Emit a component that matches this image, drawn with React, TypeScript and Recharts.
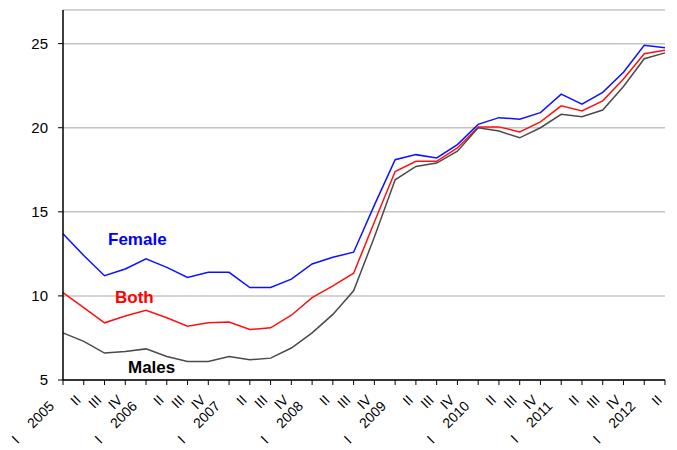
import { CartesianGrid, Line, LineChart, XAxis, YAxis } from 'recharts';

const periods = [
  '2005 I', '2005 II', '2005 III', '2005 IV',
  '2006 I', '2006 II', '2006 III', '2006 IV',
  '2007 I', '2007 II', '2007 III', '2007 IV',
  '2008 I', '2008 II', '2008 III', '2008 IV',
  '2009 I', '2009 II', '2009 III', '2009 IV',
  '2010 I', '2010 II', '2010 III', '2010 IV',
  '2011 I', '2011 II', '2011 III', '2011 IV',
  '2012 I', '2012 II',
];

const female = [
  13.7, 12.4, 11.2, 11.6, 12.2, 11.7, 11.1, 11.4, 11.4, 10.5,
  10.5, 11.0, 11.9, 12.3, 12.6, 15.4, 18.1, 18.4, 18.2, 19.0,
  20.2, 20.6, 20.5, 20.9, 22.0, 21.4, 22.1, 23.3, 24.9, 24.75,
];

const both = [
  10.2, 9.3, 8.4, 8.8, 9.15, 8.7, 8.2, 8.4, 8.45, 8.0,
  8.1, 8.85, 9.9, 10.6, 11.35, 14.4, 17.4, 18.0, 18.0, 18.8,
  20.05, 20.05, 19.75, 20.35, 21.3, 21.0, 21.6, 22.9, 24.4, 24.6,
];

const males = [
  7.8, 7.3, 6.6, 6.7, 6.85, 6.4, 6.1, 6.1, 6.4, 6.2,
  6.3, 6.9, 7.8, 8.9, 10.3, 13.5, 16.9, 17.7, 17.9, 18.6,
  20.0, 19.8, 19.4, 20.0, 20.8, 20.65, 21.05, 22.45, 24.1, 24.45,
];

const yTicks = [5, 10, 15, 20, 25];

const data = periods.map((p, i) => ({ period: p, female: female[i], both: both[i], males: males[i] }));

const FONT = '"Liberation Sans", Arial, sans-serif';

// quarter labels, rotated; first quarter also carries the year
function PeriodTick(props: any) {
  const { x, y, payload } = props;
  const [year, q] = String(payload.value).split(' ');
  const isFirst = q === 'I';
  const tx = isFirst ? x - 8 : x - 2;
  const ty = isFirst ? y + 20 : y + 14;
  return (
    <g transform={`translate(${tx},${ty}) rotate(-45)`}>
      <text x={0} y={0} textAnchor="end" fontSize={14} fontFamily={FONT} fill="#000">
        {isFirst ? (
          <>
            <tspan>I</tspan>
            <tspan dx={18}>{year}</tspan>
          </>
        ) : (
          q
        )}
      </text>
    </g>
  );
}

export default function App() {
  return (
    <div style={{ position: 'absolute', left: 0, top: 0, width: 677, height: 450, background: '#fff' }}>
      <LineChart width={677} height={450} data={data} margin={{ top: 10, right: 12, bottom: 0, left: 0 }}>
        <CartesianGrid vertical={false} stroke="#c4c4c4" strokeWidth={1.5} />
        <XAxis
          dataKey="period"
          interval={0}
          height={70}
          tickSize={5}
          tick={<PeriodTick />}
          axisLine={{ stroke: '#000', strokeWidth: 1.5 }}
          tickLine={{ stroke: '#000' }}
        />
        <YAxis
          domain={[5, 27]}
          ticks={yTicks}
          width={63}
          tickSize={5}
          tickMargin={10}
          tick={{ fontSize: 15, fontFamily: FONT, fill: '#000' }}
          axisLine={{ stroke: '#000', strokeWidth: 1.5 }}
          tickLine={{ stroke: '#000' }}
        />
        <Line dataKey="female" stroke="#1010ff" strokeWidth={1.5} dot={false} isAnimationActive={false} />
        <Line dataKey="both" stroke="#ff1010" strokeWidth={1.5} dot={false} isAnimationActive={false} />
        <Line dataKey="males" stroke="#4a4a4a" strokeWidth={1.5} dot={false} isAnimationActive={false} />
      </LineChart>
      <svg width={677} height={450} style={{ position: 'absolute', left: 0, top: 0, pointerEvents: 'none' }}>
        <g fontFamily={FONT} fontWeight="bold" fontSize={17}>
          <text x={108} y={245} fill="#0000ff">Female</text>
          <text x={115} y={303} fill="#ff0000">Both</text>
          <text x={128} y={373} fill="#000">Males</text>
        </g>
      </svg>
    </div>
  );
}
